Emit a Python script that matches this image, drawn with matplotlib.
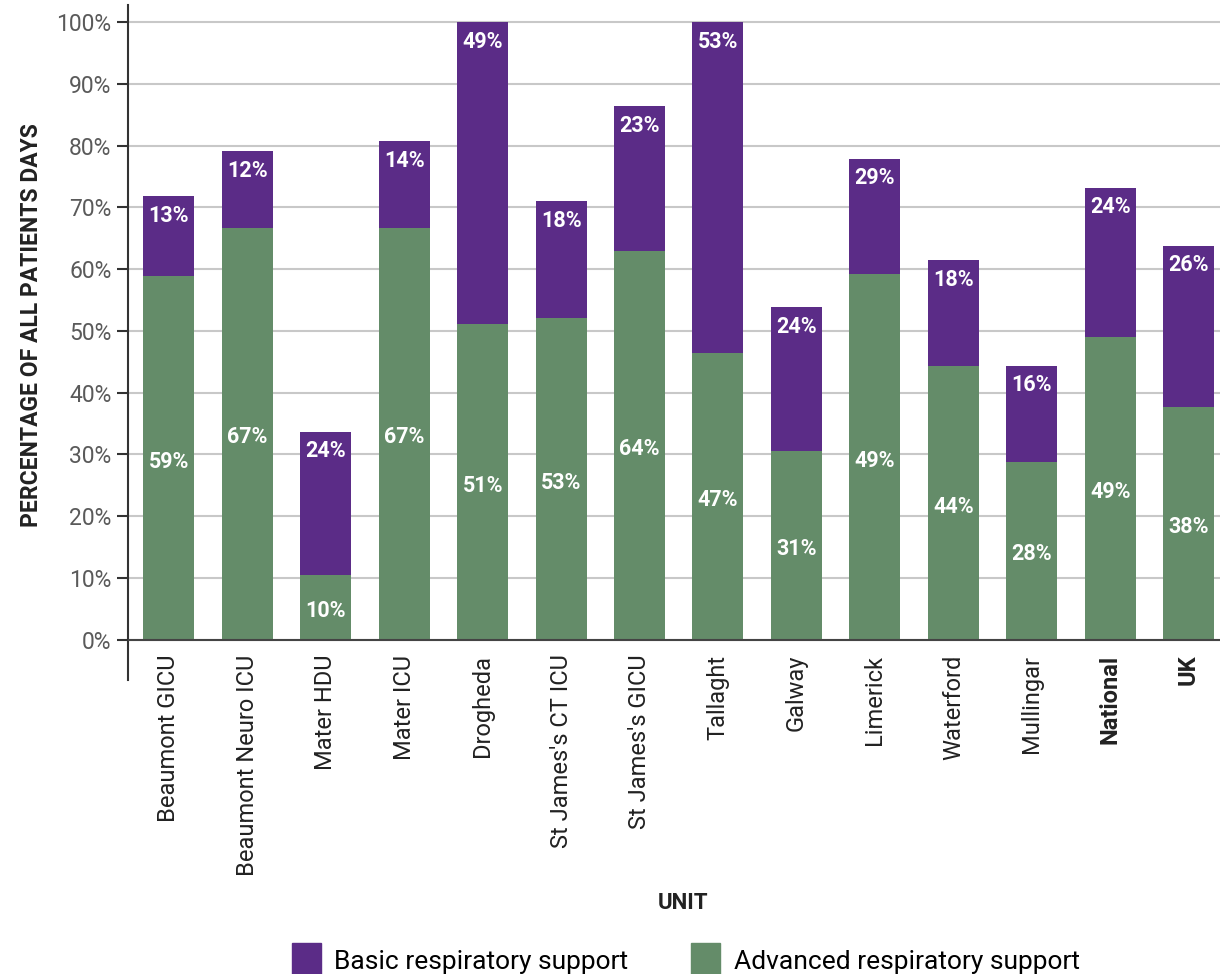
import numpy as np
import matplotlib
matplotlib.use('Agg')
import matplotlib.pyplot as plt
from matplotlib.patches import Patch

plt.rcParams['font.family'] = ['Roboto', 'DejaVu Sans']

units = ['Beaumont GICU', 'Beaumont Neuro ICU', 'Mater HDU', 'Mater ICU',
         'Drogheda', "St James's CT ICU", "St James's GICU", 'Tallaght',
         'Galway', 'Limerick', 'Waterford', 'Mullingar', 'National', 'UK']
# bar heights as drawn (% of patient days)
advanced = [58.9, 66.7, 10.4, 66.7, 51.1, 52.1, 62.9, 46.4,
            30.6, 59.2, 44.3, 28.8, 49.0, 37.7]
basic = [12.9, 12.4, 23.3, 14.0, 48.9, 18.9, 23.5, 53.6,
         23.3, 18.7, 17.2, 15.6, 24.2, 26.1]
# printed labels
advanced_lbl = ['59%', '67%', '10%', '67%', '51%', '53%', '64%', '47%',
                '31%', '49%', '44%', '28%', '49%', '38%']
basic_lbl = ['13%', '12%', '24%', '14%', '49%', '18%', '23%', '53%',
             '24%', '29%', '18%', '16%', '24%', '26%']
bold_units = ['National', 'UK']

purple = '#5b2c87'
green = '#648c69'

fig = plt.figure(figsize=(12.2, 9.74), dpi=100)
ax = fig.add_axes([0.105, 0.302, 0.895, 0.693])

x = np.arange(len(units))
adv = np.array(advanced)
bas = np.array(basic)
ax.bar(x, adv, width=0.65, color=green, zorder=3)
ax.bar(x, bas, width=0.65, bottom=adv, color=purple, zorder=3)

for i in range(len(units)):
    ax.text(x[i], adv[i] / 2 - 0.6, advanced_lbl[i], ha='center', va='center',
            color='white', fontsize=15.5, fontweight='bold', zorder=4)
    ax.text(x[i], adv[i] + bas[i] - 3.2, basic_lbl[i], ha='center', va='center',
            color='white', fontsize=15.5, fontweight='bold', zorder=4)

ax.set_xlim(-0.52, 13.4)
ax.set_ylim(-6.5, 102.8)
ax.set_yticks(np.arange(0, 101, 10))
ax.set_yticklabels([f'{v}%' for v in range(0, 101, 10)])
ax.yaxis.grid(True, color='#c8c8c8', linewidth=1.5, zorder=0)
ax.axhline(0, color='#444444', linewidth=1.5, zorder=5)

for s in ['top', 'right', 'bottom']:
    ax.spines[s].set_visible(False)
ax.spines['left'].set_color('#333333')
ax.spines['left'].set_linewidth(1.5)
ax.tick_params(axis='y', length=8, width=1.5, color='#333333',
               labelsize=16.5, labelcolor='#5a5a5a', pad=4)

ax.set_xticks([])
for i, u in enumerate(units):
    ax.text(x[i], -2.4, u, rotation=90, ha='center', va='top',
            fontsize=17, color='#222222',
            fontweight='bold' if u in bold_units else 'normal')

ax.set_ylabel('PERCENTAGE OF ALL PATIENTS DAYS', fontsize=16.5,
              fontweight='bold', color='#222222')
ax.yaxis.set_label_coords(-0.078, 0.526)

fig.text(0.56, 0.073, 'UNIT', ha='center', va='center', fontsize=16,
         fontweight='bold', color='#222222')

handles = [Patch(color=purple), Patch(color=green)]
fig.legend(handles, ['Basic respiratory support', 'Advanced respiratory support'],
           loc='center', bbox_to_anchor=(0.562, 0.014), ncol=2, frameon=False,
           fontsize=19, handlelength=1.1, handleheight=1.6,
           columnspacing=2.4, handletextpad=0.5)

fig.savefig('out.png', dpi=100)
